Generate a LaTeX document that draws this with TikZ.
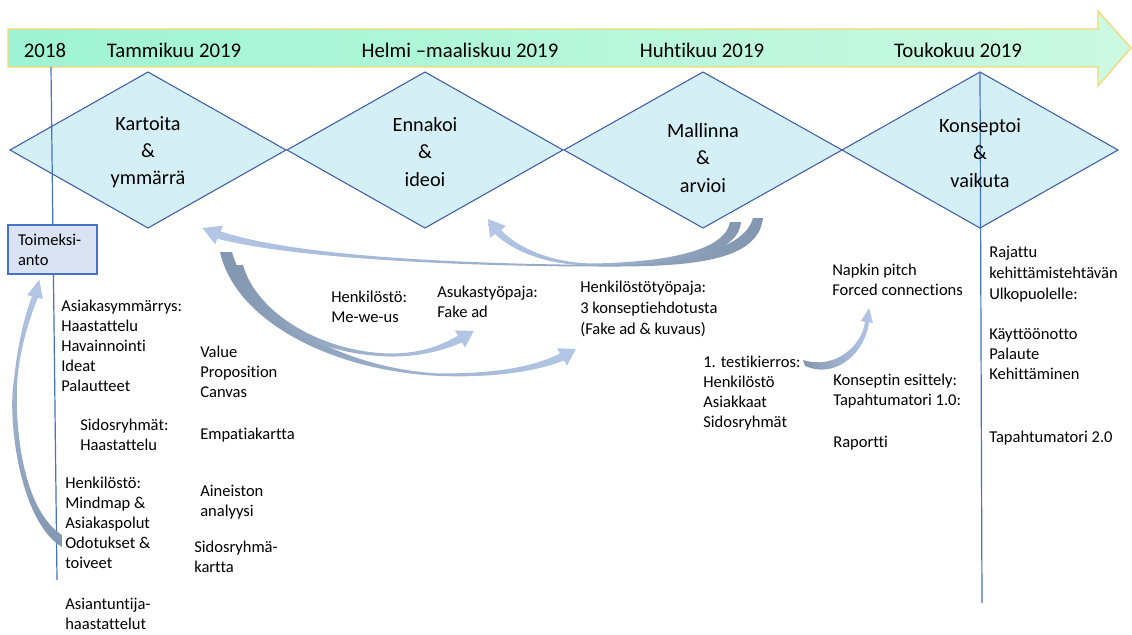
\documentclass[tikz,border=0pt]{standalone}
\usepackage{fontspec}
\setmainfont{Carlito}[Ligatures=NoCommon]
\definecolor{mintA}{RGB}{158,244,212}
\definecolor{mintB}{RGB}{204,249,226}
\definecolor{hdrLine}{RGB}{245,216,120}
\definecolor{diaFill}{RGB}{212,240,246}
\definecolor{diaLine}{RGB}{63,94,169}
\definecolor{vLine}{RGB}{68,114,196}
\definecolor{boxFill}{RGB}{218,227,243}
\definecolor{rDark}{RGB}{132,151,176}
\definecolor{rLight}{RGB}{180,199,231}
\begin{document}
\begin{tikzpicture}[x=0.75pt,y=-0.75pt,
  hdr/.style={font=\fontsize{15.6}{19}\selectfont, inner sep=0},
  dtxt/.style={font=\fontsize{15.2}{20.5}\selectfont, align=center, inner sep=0},
  body/.style={font=\fontsize{12.4}{15}\selectfont, align=left, anchor=north west,
    inner sep=0, execute at begin node=\strut},
  loose/.style={font=\fontsize{12.4}{15.75}\selectfont},
  dia/.style={draw=diaLine, fill=diaFill, line width=0.8pt},
  vline/.style={draw=vLine, line width=0.9pt},
  tbox/.style={draw=vLine, fill=boxFill, line width=1pt, font=\fontsize{12.4}{15}\selectfont,
    align=left, text width=51.75pt, inner xsep=7.5pt, inner ysep=0pt, minimum height=36.75pt}
]
\useasboundingbox (0,0) rectangle (1132,635);

% timeline arrow
\shadedraw[left color=mintA, right color=mintB, draw=hdrLine, line width=1pt]
  (8,29) -- (1098,29) -- (1098,11) -- (1131,48) -- (1098,86) -- (1098,67) -- (8,67) -- cycle;
\node[hdr] (h0) at (45,50) {2018};
\node[hdr] (h1) at (174,50) {Tammikuu 2019};
\node[hdr] (h2) at (460,50) {Helmi –maaliskuu 2019};
\node[hdr] (h3) at (702,50) {Huhtikuu 2019};
\node[hdr] (h4) at (958,50) {Toukokuu 2019};

% phase diamonds
\draw[dia] (148,72) -- (286,150) -- (148,228) -- (10,150) -- cycle;
\draw[dia] (425,72) -- (563,150) -- (425,228) -- (287,150) -- cycle;
\draw[dia] (703,72) -- (842,150) -- (703,228) -- (564,150) -- cycle;
\draw[dia] (980,72) -- (1118,150) -- (980,228) -- (842,150) -- cycle;

% vertical guide lines
\draw[vline] (51,67) -- (57,580);
\draw[vline] (980,72) -- (982,603);

\node[dtxt] (d1) at (148,152) {Kartoita\\\&\\ymmärrä};
\node[dtxt] (d2) at (425,152) {Ennakoi\\\&\\ideoi};
\node[dtxt] (d3) at (703,158) {Mallinna\\\&\\arvioi};
\node[dtxt] (d4) at (980,153) {Konseptoi\\\&\\vaikuta};

\node[tbox] (toim) at (52.5,249.5) {Toimeksi-\\anto};

% curved ribbon arrows
% back to the assignment box
\shade[top color=rLight, middle color=rLight, bottom color=rDark]
  (62,547) .. controls (20,522) and (7,420) .. (14,380)
  .. controls (18,340) and (26,312) .. (32.1,296.3)
  -- (27.2,295.1) -- (39.3,279.5) -- (42.8,298.9) -- (37.9,297.7)
  .. controls (29,320) and (19,350) .. (17,385)
  .. controls (15,440) and (26,512) .. (62,535) -- cycle;
% long return towards the first phase
\shade[left color=rLight, middle color=rLight, right color=rDark]
  (217.4,238.7) -- (215.1,244.2) -- (202.4,228) -- (222.9,225.8) -- (220.6,231.3)
  .. controls (300,258) and (480,264) .. (600,265)
  .. controls (690,263) and (745,248) .. (753,218)
  -- (763,218)
  .. controls (758,262) and (690,267) .. (600,266.5)
  .. controls (480,266.5) and (300,260) .. (217.4,238.7) -- cycle;
% return towards the second phase
\shade[left color=rLight, middle color=rLight, right color=rDark]
  (741,222) .. controls (738,255) and (680,265) .. (593,265.5)
  .. controls (550,265.5) and (515,253) .. (495,234)
  -- (490,238) -- (488,219) -- (506,226) -- (501,230)
  .. controls (520,250) and (555,263) .. (593,263.5)
  .. controls (670,262) and (725,250) .. (730,222) -- cycle;
% forward to the workshops
\shade[left color=rDark, middle color=rLight, right color=rLight]
  (220,252) .. controls (235,320) and (330,371) .. (440,376)
  .. controls (500,378) and (540,370) .. (564,360.5)
  -- (567,365.7) -- (575.9,349) -- (557,348.3) -- (560,353.5)
  .. controls (535,366) and (500,373.5) .. (440,373.5)
  .. controls (345,369) and (250,318) .. (232,252) -- cycle;
\shade[left color=rDark, middle color=rLight, right color=rLight]
  (232,265) .. controls (245,312) and (310,355) .. (390,356.5)
  .. controls (420,357) and (445,350) .. (462,342.4)
  -- (465,347.6) -- (473.8,331) -- (455,330.4) -- (458,335.6)
  .. controls (440,346) and (420,353.5) .. (390,353.5)
  .. controls (320,352) and (256,312) .. (243,265) -- cycle;
% test round to napkin pitch
\shade[left color=rDark, right color=rLight]
  (805,366) .. controls (838,380) and (866,350) .. (869,322.3)
  -- (872.9,322.9) -- (869.1,308.1) -- (861.1,321.1) -- (865,321.7)
  .. controls (862,346) and (835,370) .. (803,360) -- cycle;

% activity texts
\node[body] (t1) at (61,300) {Asiakasymmärrys:\\Haastattelu\\Havainnointi\\Ideat\\Palautteet};
\node[body] (t2) at (80,419) {Sidosryhmät:\\Haastattelu};
\node[body] (t3) at (65,477) {Henkilöstö:\\Mindmap \&\\Asiakaspolut\\Odotukset \&\\toiveet};
\node[body] (t4) at (65,598) {Asiantuntija-\\haastattelut};
\node[body] (t5) at (200,346) {Value\\Proposition\\Canvas};
\node[body] (t6) at (200,425) {Empatiakartta};
\node[body] (t7) at (200,485) {Aineiston\\analyysi};
\node[body] (t8) at (194,541) {Sidosryhmä-\\kartta};
\node[body] (t9) at (331,291) {Henkilöstö:\\Me-we-us};
\node[body] (t10) at (437,286) {Asukastyöpaja:\\Fake ad};
\node[body, loose] (t11) at (580,281) {Henkilöstötyöpaja:\\3 konseptiehdotusta\\(Fake ad \& kuvaus)};
\node[body] (t12) at (832,264) {Napkin pitch\\Forced connections};
\node[body] (t13) at (703,356) {1. testikierros:\\Henkilöstö\\Asiakkaat\\Sidosryhmät};
\node[body] (t14) at (833,374) {Konseptin esittely:\\Tapahtumatori 1.0:};
\node[body] (t15) at (833,433) {Raportti};
\node[body, loose] (t16) at (989,246) {Rajattu\\kehittämistehtävän\\Ulkopuolelle:};
\node[body] (t17) at (989,328) {Käyttöönotto\\Palaute\\Kehittäminen};
\node[body] (t18) at (989,428) {Tapahtumatori 2.0};
\end{tikzpicture}
\end{document}
